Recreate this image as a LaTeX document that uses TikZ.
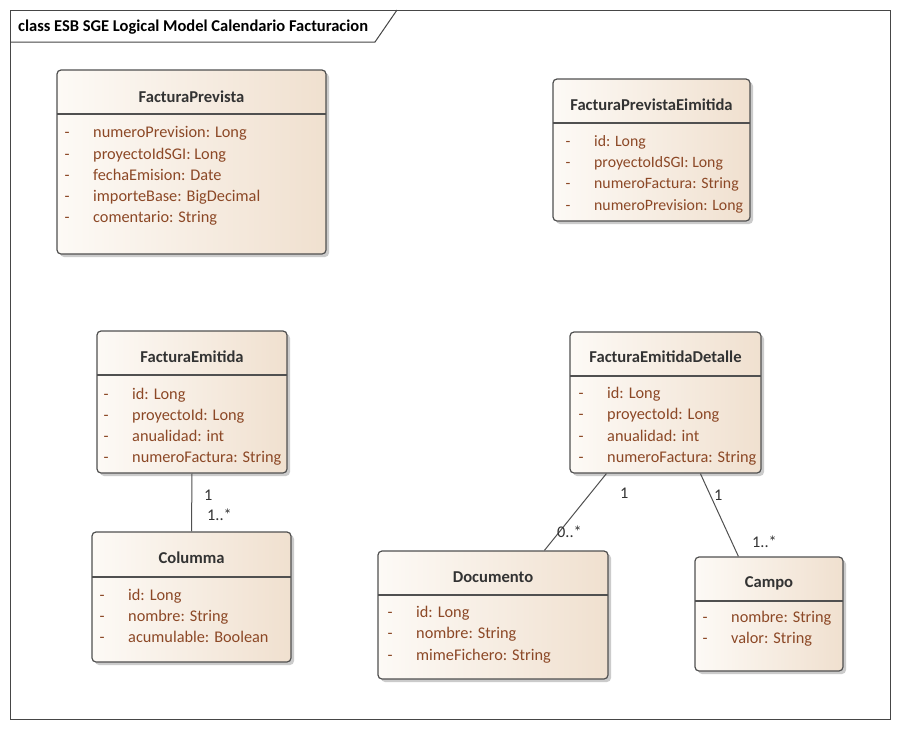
\documentclass[tikz,border=0pt]{standalone}
\usepackage{fontspec}
\setmainfont{Carlito}
\usetikzlibrary{shadows,fit}
\definecolor{cLeft}{RGB}{253,250,246}
\definecolor{cRight}{RGB}{240,224,207}
\definecolor{bord}{RGB}{80,80,80}
\definecolor{attrcol}{RGB}{140,72,38}
\definecolor{ttlcol}{RGB}{51,51,51}
\definecolor{framecol}{RGB}{70,70,70}
\tikzset{
  cls/.style={draw=bord, line width=1.2pt, rounded corners=4pt, inner sep=0pt,
    left color=cLeft, right color=cRight,
    drop shadow={shadow xshift=3pt, shadow yshift=-3pt, fill=black!25, opacity=0.8}},
  sepline/.style={draw=bord, line width=1.2pt},
  ttl/.style={font=\bfseries\fontsize{16.6}{19}\selectfont, text=ttlcol, anchor=base, inner sep=0pt},
  attrs/.style={font=\fontsize{16.3}{21.3}\selectfont, text=attrcol, anchor=base west, inner sep=0pt},
  conn/.style={draw=bord, line width=1pt},
  mult/.style={font=\fontsize{16.3}{19}\selectfont, text=ttlcol, anchor=base west, inner sep=0pt},
}
\newcommand\attrlist[1]{\begin{tabular}[t]{@{}p{28.5pt}@{}l@{}}#1\end{tabular}}
\begin{document}
\begin{tikzpicture}[x=1pt,y=-1pt]
\useasboundingbox (0,0) rectangle (900,729);
\fill[white] (0,0) rectangle (900,729);
% frame
\draw[framecol, line width=1pt] (10,10) rectangle (890,719);
\draw[framecol, line width=1pt] (10,42) -- (375,42) -- (397,10);
\node[font=\bfseries\fontsize{16.5}{19}\selectfont, text=black, anchor=base west, inner sep=0pt] (frametitle) at (18,31.5) {class ESB SGE Logical Model Calendario Facturacion};

% FacturaPrevista
\node[cls, fit={(57,70) (326,254)}] (fp) {};
\draw[sepline] (57,114) -- (326,114);
\node[ttl] (fpt) at (191.5,102) {FacturaPrevista};
\node[attrs] (fpa) at (64.5,137.7) {\attrlist{- & numeroPrevision: Long\\ - & proyectoIdSGI: Long\\ - & fechaEmision: Date\\ - & importeBase: BigDecimal\\ - & comentario: String}};

% FacturaPrevistaEimitida
\node[cls, fit={(553,79) (750,221)}] (fpe) {};
\draw[sepline] (553,123) -- (750,123);
\node[ttl] (fpet) at (651.5,110) {FacturaPrevistaEimitida};
\node[attrs, font=\fontsize{15.8}{21.1}\selectfont] (fpea) at (565.5,146.7) {\attrlist{- & id: Long\\ - & proyectoIdSGI: Long\\ - & numeroFactura: String\\ - & numeroPrevision: Long}};

% FacturaEmitida
\node[cls, fit={(97,331) (287,473)}] (fe) {};
\draw[sepline] (97,375) -- (287,375);
\node[ttl] (fet) at (192,362) {FacturaEmitida};
\node[attrs] (fea) at (103.5,399) {\attrlist{- & id: Long\\ - & proyectoId: Long\\ - & anualidad: int\\ - & numeroFactura: String}};

% FacturaEmitidaDetalle
\node[cls, fit={(570,332) (761,473)}] (fed) {};
\draw[sepline] (570,376) -- (761,376);
\node[ttl] (fedt) at (665.5,362) {FacturaEmitidaDetalle};
\node[attrs] (feda) at (578.5,398.5) {\attrlist{- & id: Long\\ - & proyectoId: Long\\ - & anualidad: int\\ - & numeroFactura: String}};

% Columma
\node[cls, fit={(92,532) (291,662)}] (col) {};
\draw[sepline] (92,577) -- (291,577);
\node[ttl] (colt) at (191.5,563) {Columma};
\node[attrs] (cola) at (99.5,600) {\attrlist{- & id: Long\\ - & nombre: String\\ - & acumulable: Boolean}};

% Documento
\node[cls, fit={(378,551) (608,679)}] (doc) {};
\draw[sepline] (378,595) -- (608,595);
\node[ttl] (doct) at (493,582) {Documento};
\node[attrs] (doca) at (387.5,617.5) {\attrlist{- & id: Long\\ - & nombre: String\\ - & mimeFichero: String}};

% Campo
\node[cls, fit={(695,557) (843,671)}] (cam) {};
\draw[sepline] (695,601) -- (843,601);
\node[ttl] (camt) at (769,587) {Campo};
\node[attrs] (cama) at (702.5,622) {\attrlist{- & nombre: String\\ - & valor: String}};

% connectors
\draw[conn] (fe.south) -- (col.north);
\node[mult] (m1) at (204,500) {1};
\node[mult] (m2) at (207,520) {1..*};

\draw[conn] ([xshift=37pt]fed.south west) -- ([xshift=167pt]doc.north west);
\node[mult] (m3) at (620,498) {1};
\node[mult] (m4) at (557,537) {0..*};

\draw[conn] ([xshift=131pt]fed.south west) -- ([xshift=44pt]cam.north west);
\node[mult] (m5) at (714,500) {1};
\node[mult] (m6) at (752,547) {1..*};
\end{tikzpicture}
\end{document}
